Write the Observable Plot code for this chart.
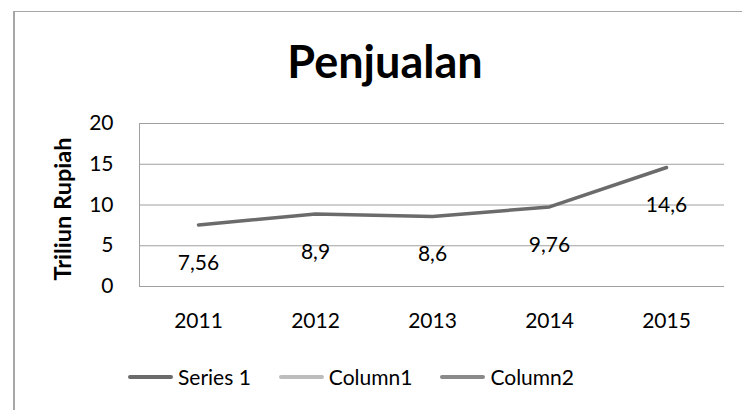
<!DOCTYPE html>
<html>
<head>
<meta charset="utf-8">
<script src="https://cdn.jsdelivr.net/npm/d3@7"></script>
<script src="https://cdn.jsdelivr.net/npm/@observablehq/plot@0.6"></script>
<style>
  html, body { margin: 0; padding: 0; background: #fff; }
  #wrap { position: relative; width: 742px; height: 410px; overflow: hidden; font-family: Lato, sans-serif; }
  #frame { position: absolute; left: 13px; top: 11px; width: 800px; height: 500px; border-left: 2px solid #a6a6a6; border-top: 1px solid #a6a6a6; }
  #title { position: absolute; left: 0; width: 770px; top: 35px; text-align: center; font-weight: bold; font-size: 45px; line-height: 52px; color: #000; }
  #chart { position: absolute; left: 0; top: 100px; }
  #legend { position: absolute; top: 364px; left: 128px; display: flex; align-items: center; font-size: 21px; color: #000; line-height: 26px; }
  .item { display: flex; align-items: center; margin-right: 0; }
  .sw { width: 45px; height: 4px; border-radius: 2px; margin-right: 5px; }
</style>
</head>
<body>
<div id="wrap">
  <div id="frame"></div>
  <div id="title">Penjualan</div>
  <div id="chart"></div>
  <div id="legend"></div>
</div>
<script>
const years = ["2011", "2012", "2013", "2014", "2015"];
const sales = [7.56, 8.9, 8.6, 9.76, 14.6];
const yTicks = [0, 5, 10, 15, 20];
const seriesNames = ["Series 1", "Column1", "Column2"];
const seriesColors = ["#6b6b6b", "#bdbdbd", "#8a8a8a"];
const yLabel = "Triliun Rupiah";

const data = years.map((y, i) => ({year: y, value: sales[i]}));
const fmt = v => String(v).replace(".", ",");

const chart = Plot.plot({
  width: 742,
  height: 240,
  marginTop: 23,
  marginBottom: 54,
  marginLeft: 139,
  marginRight: 18,
  style: {fontFamily: "Lato, sans-serif", fontSize: "21px", color: "#000", background: "transparent", overflow: "visible"},
  x: {type: "point", domain: years, padding: 0.5},
  y: {domain: [0, 20]},
  marks: [
    Plot.gridY(yTicks, {stroke: "#a0a0a0", strokeOpacity: 1}),
    Plot.frame({anchor: "left", stroke: "#a0a0a0"}),
    Plot.axisY(yTicks, {tickSize: 0, tickPadding: 26, label: null, fill: "#000"}),
    Plot.axisX({tickSize: 0, tickPadding: 27, label: null, fill: "#000"}),
    Plot.line(data, {x: "year", y: "value", stroke: seriesColors[0], strokeWidth: 3.5}),
    Plot.text(data, {x: "year", y: "value", text: d => fmt(d.value), dy: 38, fill: "#000", fontSize: 21}),
    Plot.text([yLabel], {frameAnchor: "left", textAnchor: "middle", dx: -76, dy: 4, rotate: -90, fontWeight: "bold", fontSize: 23.5, fill: "#000"})
  ]
});
document.getElementById("chart").appendChild(chart);

const legend = document.getElementById("legend");
const gaps = [28, 28, 0];
seriesNames.forEach((name, i) => {
  const item = document.createElement("div");
  item.className = "item";
  item.style.marginRight = gaps[i] + "px";
  const sw = document.createElement("div");
  sw.className = "sw";
  sw.style.background = seriesColors[i];
  const t = document.createElement("span");
  t.textContent = name;
  item.appendChild(sw);
  item.appendChild(t);
  legend.appendChild(item);
});
</script>
</body>
</html>
